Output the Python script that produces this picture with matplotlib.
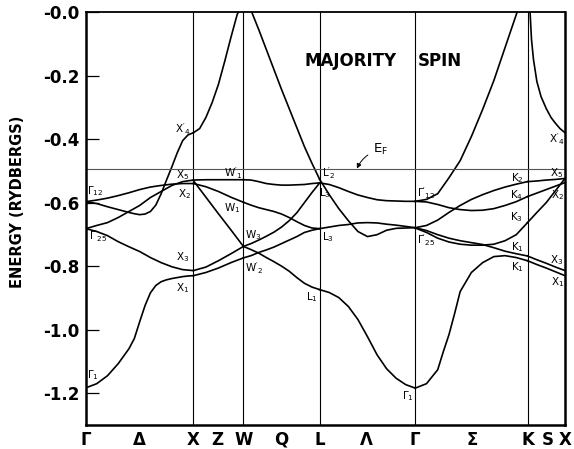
import numpy as np
import matplotlib
matplotlib.use('Agg')
import matplotlib.pyplot as plt

plt.rcParams['font.family'] = 'DejaVu Sans'
plt.rcParams['mathtext.default'] = 'regular'

# symmetry points along the path (axis units) and their tick labels
kpts = [0.0, 1.0, 1.466, 2.176, 3.066, 4.111, 4.460]
tick_pos = [0.0, 0.495, 1.0, 1.22, 1.466, 1.822, 2.176, 2.61, 3.066, 3.60, 4.111, 4.30, 4.460]
tick_lab = ['Γ', 'Δ', 'X', 'Z', 'W', 'Q', 'L', 'Λ', 'Γ', 'Σ', 'K', 'S', 'X']
mid_pos = [0.495, 1.22, 1.822, 2.61, 3.60, 4.30]
E_F = -0.493

# ---- Gamma -> X ----
t_gx = [0, .1, .2, .3, .4, .5, .6, .7, .8, .9, 1]
gx_x3 = [-0.682, -0.691, -0.704, -0.723, -0.739, -0.754, -0.773, -0.789, -0.802, -0.811, -0.814]
gx_x5 = [-0.682, -0.672, -0.663, -0.647, -0.628, -0.609, -0.584, -0.565, -0.546, -0.534, -0.529]
gx_x2 = [-0.597, -0.592, -0.586, -0.578, -0.569, -0.559, -0.551, -0.546, -0.542, -0.540, -0.540]
t_gx2 = [0, .1, .2, .3, .4, .45, .5, .55, .6, .65, .7, .75, .8, .85, .9, .95, 1]
gx_x1 = [-1.183, -1.170, -1.145, -1.107, -1.060, -1.028, -0.975, -0.924, -0.884, -0.861,
         -0.849, -0.843, -0.839, -0.836, -0.833, -0.831, -0.830]
gx_x4 = [-0.597, -0.603, -0.613, -0.622, -0.631, -0.635, -0.638, -0.636, -0.628, -0.608,
         -0.572, -0.529, -0.487, -0.443, -0.405, -0.387, -0.380]

# ---- X -> W ----
t_xw = [0, .25, .5, .75, 1]
xw_w1p = [-0.529, -0.528, -0.528, -0.528, -0.528]
xw_w3a = [-0.531, -0.583, -0.635, -0.686, -0.738]
xw_w1 = [-0.540, -0.550, -0.565, -0.583, -0.599]
xw_w3b = [-0.814, -0.803, -0.783, -0.761, -0.738]
xw_w2p = [-0.830, -0.820, -0.806, -0.789, -0.774]
t_xw2 = [0, .125, .25, .375, .5, .625, .75, .875, 1]
xw_top = [-0.380, -0.367, -0.332, -0.285, -0.228, -0.156, -0.080, -0.008, 0.03]

# ---- W -> L ----
t_wl = [0, .1, .2, .3, .4, .5, .6, .7, .8, .9, 1]
wl_top = [0.03, 0.005, -0.055, -0.118, -0.181, -0.244, -0.304, -0.364, -0.424, -0.477, -0.527]
wl_w1p = [-0.528, -0.529, -0.534, -0.540, -0.543, -0.545, -0.545, -0.544, -0.543, -0.540, -0.538]
wl_w1 = [-0.599, -0.608, -0.616, -0.622, -0.628, -0.636, -0.647, -0.660, -0.672, -0.680, -0.682]
wl_w3u = [-0.738, -0.729, -0.718, -0.706, -0.693, -0.677, -0.657, -0.632, -0.600, -0.568, -0.538]
wl_w3d = [-0.738, -0.748, -0.759, -0.773, -0.786, -0.800, -0.816, -0.836, -0.854, -0.866, -0.874]
wl_w2p = [-0.774, -0.767, -0.757, -0.749, -0.740, -0.729, -0.718, -0.707, -0.694, -0.687, -0.682]

# ---- L -> Gamma ----
t_lg = [0, .1, .2, .3, .4, .5, .6, .7, .8, .9, 1]
lg_l3u = [-0.538, -0.543, -0.553, -0.565, -0.576, -0.584, -0.591, -0.594, -0.595, -0.596, -0.596]
lg_l3l = [-0.682, -0.677, -0.672, -0.669, -0.664, -0.663, -0.664, -0.668, -0.671, -0.675, -0.679]
lg_l2p = [-0.527, -0.575, -0.619, -0.657, -0.691, -0.707, -0.701, -0.687, -0.681, -0.680, -0.679]
lg_l1 = [-0.874, -0.883, -0.899, -0.927, -0.968, -1.022, -1.079, -1.123, -1.153, -1.173, -1.184]

# ---- Gamma -> K ----
t_gk = [0, .1, .2, .3, .4, .5, .6, .7, .8, .9, 1]
gk_up = [-0.596, -0.590, -0.572, -0.522, -0.468, -0.392, -0.307, -0.216, -0.112, -0.008, 0.10]
gk_k4 = [-0.596, -0.598, -0.606, -0.616, -0.622, -0.625, -0.624, -0.619, -0.609, -0.597, -0.581]
gk_k2 = [-0.679, -0.672, -0.655, -0.631, -0.609, -0.590, -0.575, -0.562, -0.551, -0.542, -0.534]
gk_k3 = [-0.680, -0.694, -0.712, -0.724, -0.731, -0.734, -0.734, -0.731, -0.720, -0.701, -0.663]
gk_k1a = [-0.679, -0.688, -0.701, -0.712, -0.720, -0.726, -0.732, -0.742, -0.753, -0.761, -0.768]
t_gk2 = [0, .1, .2, .25, .3, .35, .4, .5, .6, .7, .8, .9, 1]
gk_k1b = [-1.184, -1.170, -1.126, -1.069, -1.016, -0.950, -0.880, -0.820, -0.789, -0.770,
          -0.767, -0.773, -0.783]

# ---- K -> X ----
t_kx = [0, .25, .5, .75, 1]
kx_x5a = [-0.534, -0.532, -0.529, -0.527, -0.524]
kx_x2 = [-0.581, -0.570, -0.559, -0.548, -0.537]
kx_x5b = [-0.663, -0.631, -0.600, -0.562, -0.524]
kx_x3 = [-0.768, -0.780, -0.791, -0.803, -0.814]
kx_x1 = [-0.783, -0.795, -0.806, -0.818, -0.830]
t_kx2 = [0, .067, .107, .16, .25, .36, .5, .627, .75, .867, 1]
kx_top = [0.10, 0.002, -0.087, -0.150, -0.219, -0.266, -0.304, -0.332, -0.351, -0.367, -0.380]

bands = [
    (0, t_gx, gx_x3), (0, t_gx, gx_x5), (0, t_gx, gx_x2), (0, t_gx2, gx_x1), (0, t_gx2, gx_x4),
    (1, t_xw, xw_w1p), (1, t_xw, xw_w3a), (1, t_xw, xw_w1), (1, t_xw, xw_w3b), (1, t_xw, xw_w2p),
    (1, t_xw2, xw_top),
    (2, t_wl, wl_top), (2, t_wl, wl_w1p), (2, t_wl, wl_w1), (2, t_wl, wl_w3u), (2, t_wl, wl_w3d),
    (2, t_wl, wl_w2p),
    (3, t_lg, lg_l3u), (3, t_lg, lg_l3l), (3, t_lg, lg_l2p), (3, t_lg, lg_l1),
    (4, t_gk, gk_up), (4, t_gk, gk_k4), (4, t_gk, gk_k2), (4, t_gk, gk_k3), (4, t_gk, gk_k1a),
    (4, t_gk2, gk_k1b),
    (5, t_kx, kx_x5a), (5, t_kx, kx_x2), (5, t_kx, kx_x5b), (5, t_kx, kx_x3), (5, t_kx, kx_x1),
    (5, t_kx2, kx_top),
]

# point labels (text, k, E)
labels = [
    (r'$\Gamma_{12}$', 0.09, -0.565), (r"$\Gamma'_{25}$", 0.11, -0.706), (r'$\Gamma_1$', 0.065, -1.142),
    (r"$X'_4$", 0.90, -0.370), (r'$X_5$', 0.90, -0.512), (r'$X_2$', 0.92, -0.572),
    (r'$X_3$', 0.90, -0.773), (r'$X_1$', 0.90, -0.868),
    (r"$W'_1$", 1.369, -0.509), (r'$W_1$', 1.359, -0.616), (r'$W_3$', 1.555, -0.701),
    (r"$W'_2$", 1.564, -0.805),
    (r"$L'_2$", 2.263, -0.506), (r'$L_3$', 2.225, -0.569), (r'$L_3$', 2.253, -0.710),
    (r'$L_1$', 2.104, -0.896),
    (r"$\Gamma'_{12}$", 3.165, -0.570), (r"$\Gamma'_{25}$", 3.165, -0.717), (r'$\Gamma_1$', 2.998, -1.208),
    (r'$K_2$', 4.013, -0.524), (r'$K_4$', 4.013, -0.575), (r'$K_3$', 4.013, -0.647),
    (r'$K_1$', 4.013, -0.739), (r'$K_1$', 4.013, -0.802),
    (r'$X_5$', 4.385, -0.506), (r'$X_2$', 4.395, -0.575), (r'$X_3$', 4.385, -0.780),
    (r'$X_1$', 4.395, -0.849), (r"$X'_4$", 4.385, -0.402),
]

fig = plt.figure(figsize=(5.74, 4.49), dpi=100)
ax = fig.add_axes([0.1498, 0.0535, 0.8345, 0.9198])

for seg, t, e in bands:
    k0, k1 = kpts[seg], kpts[seg + 1]
    k = k0 + np.array(t) * (k1 - k0)
    ax.plot(k, e, color='black', lw=1.2, solid_joinstyle='round')

for k in kpts[1:-1]:
    ax.axvline(k, color='black', lw=0.8)
ax.axhline(E_F, color='#555555', lw=0.8)

for txt, k, e in labels:
    ax.text(k, e, txt, fontsize=7.5, ha='center', va='center')

ax.text(2.039, -0.153, 'MAJORITY', fontsize=12, fontweight='bold', ha='left', va='center')
ax.text(3.091, -0.153, 'SPIN', fontsize=12, fontweight='bold', ha='left', va='center')
ax.annotate(r'$E_F$', xy=(2.523, E_F), xytext=(2.672, -0.433), fontsize=9.5,
            ha='left', va='center',
            arrowprops=dict(arrowstyle='-|>', lw=0.7, color='black', mutation_scale=7,
                            shrinkA=2, shrinkB=0, connectionstyle='arc3,rad=0.25'))

ax.set_xlim(kpts[0], kpts[-1])
ax.set_ylim(-1.3, 0.0)
ax.set_yticks([-1.2, -1.0, -0.8, -0.6, -0.4, -0.2, 0.0])
ax.set_yticklabels(['-1.2', '-1.0', '-0.8', '-0.6', '-0.4', '-0.2', '-0.0'],
                   fontsize=12, fontweight='bold')
ax.tick_params(axis='y', direction='in', length=9, width=0.9, pad=5)
ax.set_xticks(tick_pos)
ax.set_xticklabels(tick_lab, fontsize=12, fontweight='bold')
ax.tick_params(axis='x', which='major', length=0, pad=4)
ax.set_xticks(mid_pos, minor=True)
ax.tick_params(axis='x', which='minor', direction='in', length=9, width=0.9)

for s in ['left', 'bottom', 'right']:
    ax.spines[s].set_linewidth(1.8)
ax.spines['top'].set_linewidth(1.3)

fig.text(0.031, 0.551, 'ENERGY (RYDBERGS)', rotation=90, fontsize=10.5, fontweight='bold',
         ha='center', va='center')

fig.savefig('out.png', dpi=100)
